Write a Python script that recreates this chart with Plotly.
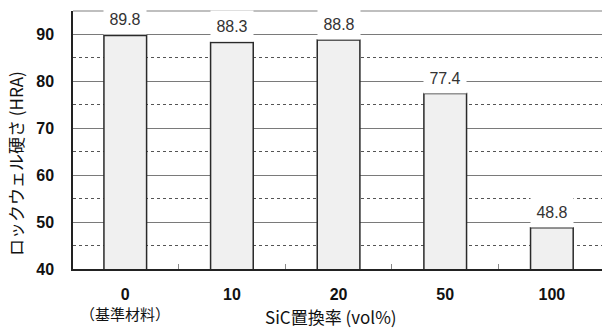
import plotly.graph_objects as go

# SiC replacement ratio (vol%) and Rockwell hardness (HRA)
categories = ["0", "10", "20", "50", "100"]
hardness = [89.8, 88.3, 88.8, 77.4, 48.8]
y_ticks = [40, 50, 60, 70, 80, 90]
y_minor = [45, 55, 65, 75, 85]
base_note = "（基準材料）"

latin = "Liberation Sans, Arial, Noto Sans CJK JP"
cjk = "Noto Sans CJK JP, Liberation Sans"

W, H = 602, 329
pl, pr, pt, pb = 73, 0, 11, 60


def px_to_paper(x, y):
    return (x - pl) / (W - pl - pr), (H - pb - y) / (H - pt - pb)


fig = go.Figure()
fig.add_trace(go.Bar(
    x=categories,
    y=hardness,
    width=0.4,
    marker=dict(color="#f0f0f0", line=dict(color="#2a2a2a", width=1.5)),
    hoverinfo="x+y",
))

# value labels on a white box that breaks the gridlines
# (category index is used so numeric-looking names are not read as positions)
for i, val in enumerate(hardness):
    fig.add_annotation(
        x=i, y=val, xref="x", yref="y",
        text=f"{val:.1f}", showarrow=False,
        yanchor="middle", yshift=16,
        bgcolor="white", width=42, height=30, borderpad=0,
        font=dict(family=latin, size=16, color="#333333"),
    )

# note under the reference-material category
fig.add_annotation(
    x=0, y=0, xref="x", yref="paper",
    text=base_note, showarrow=False,
    yanchor="middle", yshift=-44,
    font=dict(family=cjk, size=15, color="#111111"),
)

# axis titles
tx, ty = px_to_paper(331, 317)
fig.add_annotation(
    x=tx, y=ty, xref="paper", yref="paper", xanchor="center", yanchor="middle",
    text="SiC置換率 (vol%)", showarrow=False,
    font=dict(family=cjk, size=17, color="#111111"),
)
tx, ty = px_to_paper(16, 164)
fig.add_annotation(
    x=tx, y=ty, xref="paper", yref="paper", xanchor="center", yanchor="middle",
    text="ロックウェル硬さ (HRA)", showarrow=False, textangle=-90,
    font=dict(family=cjk, size=17, color="#111111"),
)

# top frame line
fig.add_shape(type="line", xref="paper", yref="paper", x0=0, x1=1, y0=1, y1=1,
              line=dict(color="#aaaaaa", width=1.5), layer="below")

fig.update_layout(
    width=W, height=H,
    margin=dict(l=pl, r=pr, t=pt, b=pb),
    paper_bgcolor="white", plot_bgcolor="white",
    showlegend=False,
    xaxis=dict(
        type="category", categoryorder="array", categoryarray=categories,
        range=[-0.49, 4.47],
        showline=True, linecolor="#222222", linewidth=1.5,
        ticks="inside", tickson="boundaries", ticklen=5, tickcolor="#888888",
        tickfont=dict(family=latin, size=16, color="#111111", weight="bold"),
        ticklabelstandoff=10, showgrid=False,
    ),
    yaxis=dict(
        range=[40, 95], tickvals=y_ticks,
        showline=True, linecolor="#222222", linewidth=1.5,
        ticks="", ticklabelstandoff=14,
        tickfont=dict(family=latin, size=16, color="#111111", weight="bold"),
        showgrid=True, gridcolor="#7a7a7a", gridwidth=1,
        zeroline=False,
        minor=dict(tickvals=y_minor, showgrid=True, gridcolor="#555555",
                   griddash="dot", gridwidth=1),
    ),
)

fig.write_html("out.html")
